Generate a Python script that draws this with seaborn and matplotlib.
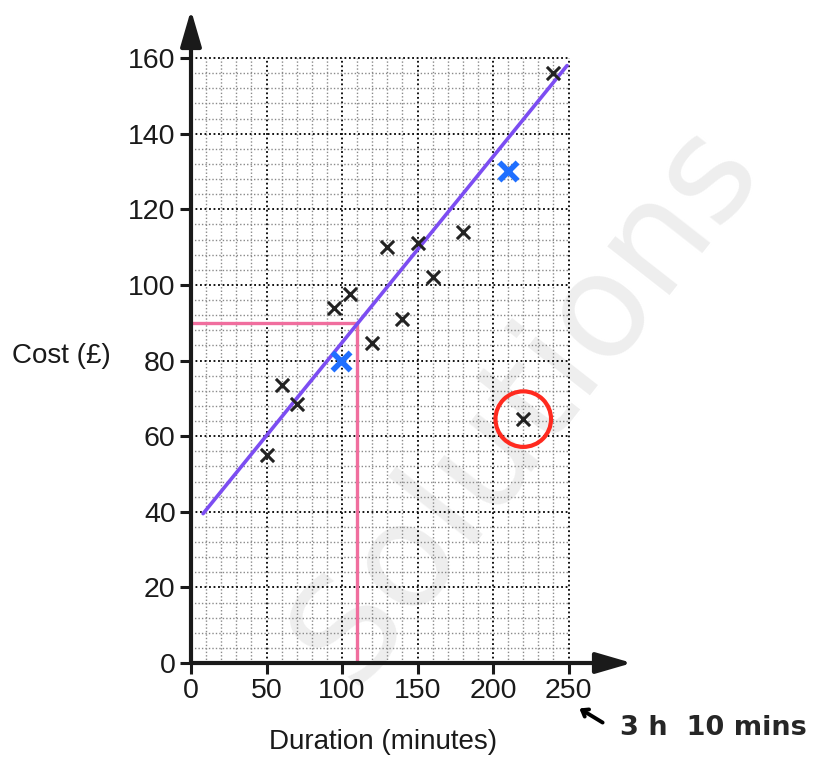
import numpy as np
import matplotlib
matplotlib.use("Agg")
import matplotlib.pyplot as plt
import seaborn as sns

# scatter data
duration = [50, 60, 70, 95, 105, 120, 130, 140, 150, 160, 180, 220, 240]
cost = [55, 73.5, 68.5, 94, 97.5, 84.5, 110, 91, 111, 102, 114, 64.5, 156]

# points marked in blue
blue_duration = [99, 210]
blue_cost = [80, 130]

# line of best fit end points
fit_x = [8, 249]
fit_y = [39.5, 158]

# reading off the line
read_x = 110
read_y = 90

# circled outlier
outlier = (220, 64.5)

sns.set_theme(style="white")
plt.rcParams['font.family'] = ['Liberation Sans', 'DejaVu Sans']

fig = plt.figure(figsize=(8.21, 7.60), dpi=100)
ax = fig.add_axes([191 / 821, 97 / 760, 441 / 821, 653 / 760])
ax.set_facecolor('none')
ax.set_zorder(2)

# faint watermark behind everything
fig.text(0.64, 0.47, 'Solutions', fontsize=104, color='#eeeeee', rotation=52,
         ha='center', va='center', zorder=0, family='DejaVu Sans')

xmax, ymax = 292, 172.7
ax.set_xlim(0, xmax)
ax.set_ylim(0, ymax)

# graph paper grid
for gx in np.arange(10, 251, 10):
    major = gx % 50 == 0
    ax.vlines(gx, 0, 160, colors='black' if major else '#8a8a8a',
              linestyles=(0, (1, 1.5)), lw=1.3 if major else 1.0, zorder=1)
for gy in np.arange(4, 161, 4):
    major = gy % 20 == 0
    ax.hlines(gy, 0, 250, colors='black' if major else '#8a8a8a',
              linestyles=(0, (1, 1.5)), lw=1.3 if major else 1.0, zorder=1)

# reading lines
ax.plot([0, read_x], [read_y, read_y], color='#f06e9e', lw=2.4, zorder=3)
ax.plot([read_x, read_x], [0, read_y], color='#f06e9e', lw=2.4, zorder=3)

# line of best fit
ax.plot(fit_x, fit_y, color='#7c4df2', lw=2.6, zorder=4, solid_capstyle='round')

sns.scatterplot(x=duration, y=cost, marker='x', s=90, color='#222222',
                linewidth=2.2, ax=ax, zorder=5)
sns.scatterplot(x=blue_duration, y=blue_cost, marker='x', s=170, color='#1f6fff',
                linewidth=4, ax=ax, zorder=6)

ax.scatter([outlier[0]], [outlier[1]], s=1600, facecolors='none',
           edgecolors='#ff2a1f', linewidths=3, zorder=6)

# axes with arrows
for s in ['top', 'right', 'left', 'bottom']:
    ax.spines[s].set_visible(False)
ax.annotate('', xy=(xmax, 0), xytext=(0, 0),
            arrowprops=dict(arrowstyle='-|>,head_length=1.1,head_width=0.32',
                            lw=3, color='#1a1a1a', mutation_scale=20,
                            shrinkA=0, shrinkB=0), annotation_clip=False)
ax.annotate('', xy=(0, ymax), xytext=(0, 0),
            arrowprops=dict(arrowstyle='-|>,head_length=1.1,head_width=0.32',
                            lw=3, color='#1a1a1a', mutation_scale=20,
                            shrinkA=0, shrinkB=0), annotation_clip=False)

ax.set_xticks([0, 50, 100, 150, 200, 250])
ax.set_yticks(np.arange(0, 161, 20))
ax.tick_params(axis='both', direction='out', length=8, width=2.2,
               color='#1a1a1a', labelcolor='#1a1a1a', labelsize=20.5, pad=3,
               left=True, bottom=True)
ax.grid(False)

fig.text(383 / 821, 1 - 742 / 760, 'Duration (minutes)', fontsize=20,
         color='#1a1a1a', ha='center', va='center')
fig.text(61 / 821, 1 - 356 / 760, 'Cost (£)', fontsize=20,
         color='#1a1a1a', ha='center', va='center')

# handwritten note
fig.text(620 / 821, 1 - 728 / 760, '3 h  10 mins', fontsize=19.5,
         fontweight='bold', ha='left', va='center', family='DejaVu Sans')
fig.add_artist(matplotlib.patches.FancyArrowPatch(
    (605 / 821, 1 - 724 / 760), (577 / 821, 1 - 707 / 760),
    transform=fig.transFigure, arrowstyle='->,head_length=4,head_width=3',
    lw=2.8, color='black'))

fig.savefig('out.png', dpi=100)
